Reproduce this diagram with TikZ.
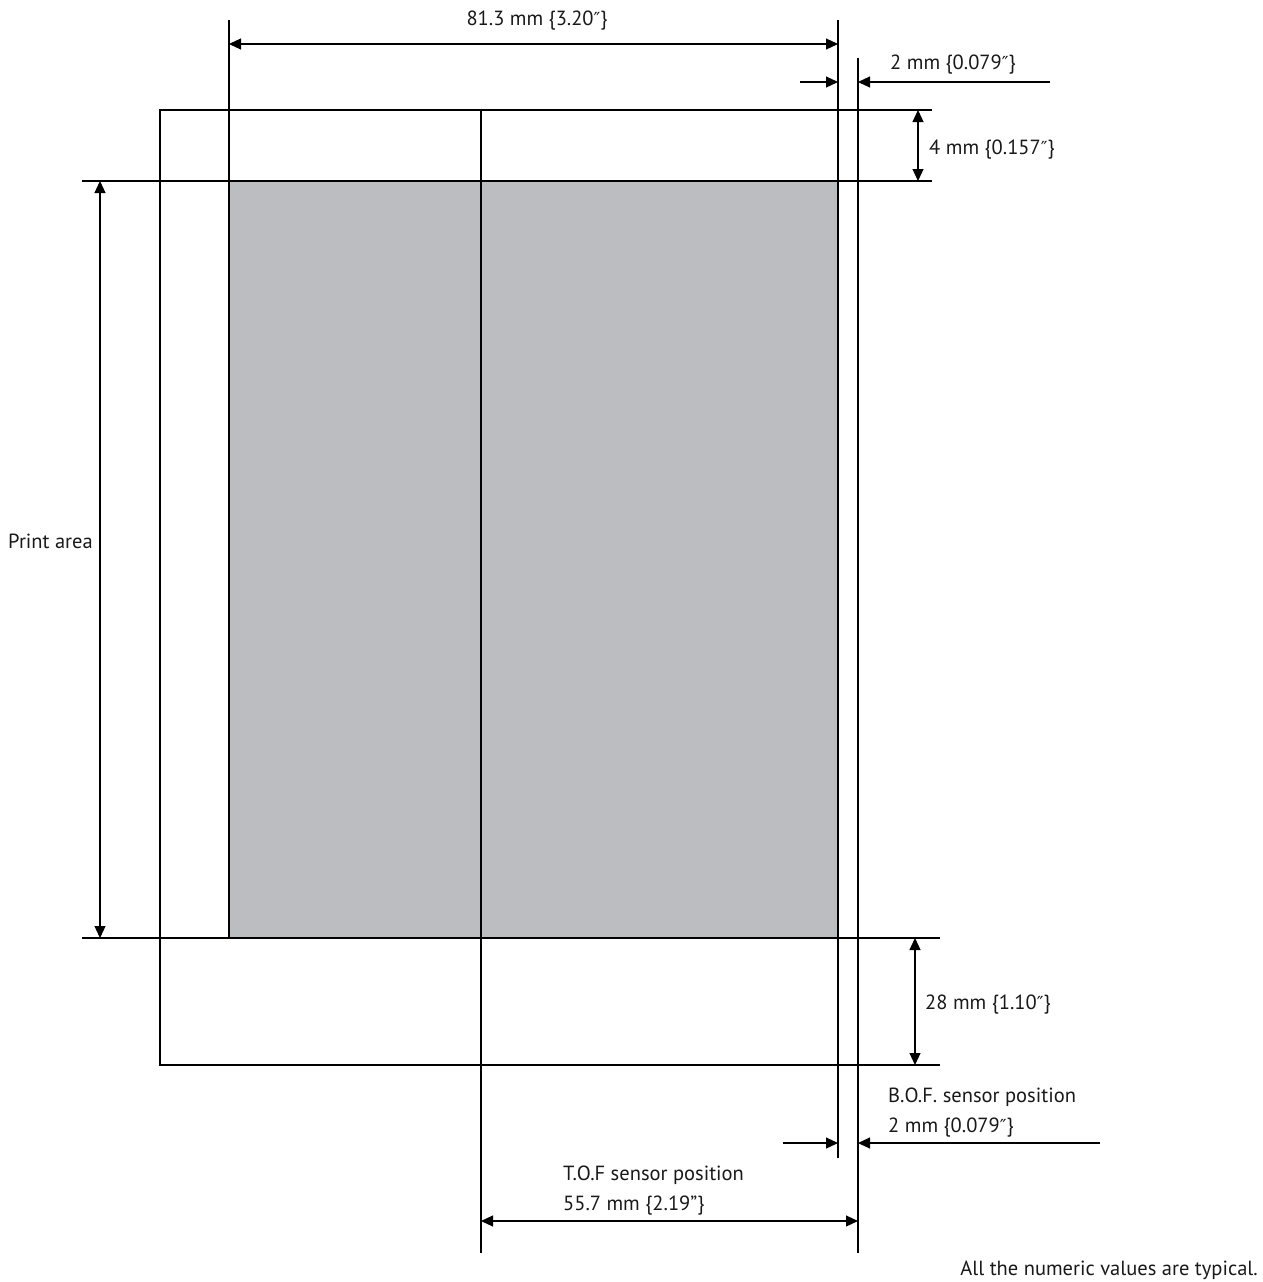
\documentclass[tikz,border=0pt]{standalone}
\usepackage{fontspec}
\setmainfont{PT Sans}
\newfontfamily\symfont{DejaVu Sans}
\newcommand{\dprime}{{\symfont\fontsize{18}{22}\selectfont ″}}
\usetikzlibrary{arrows.meta}
\definecolor{printgrey}{HTML}{BCBDC0}
\tikzset{
  thinline/.style={line width=1.1pt, black},
  frameline/.style={line width=2pt, black},
  dimarrow/.style={line width=1.1pt, black, -{Triangle[length=12pt,width=11pt]}},
  dimboth/.style={line width=1.1pt, black, {Triangle[length=12pt,width=11pt]}-{Triangle[length=12pt,width=11pt]}},
  lbl/.style={font=\fontsize{20.5}{24}\selectfont, inner sep=0pt, text=black!90}
}
\begin{document}
\begin{tikzpicture}[x=1pt,y=-1pt]
\useasboundingbox (0,0) rectangle (1262,1282);
% coordinates
\coordinate (pTL) at (160,110);
\coordinate (pBR) at (858,1065);
\coordinate (aTL) at (229,181);
\coordinate (aBR) at (838,938);
% print area
\fill[printgrey] (aTL) rectangle (aBR);
% extension lines
\draw[thinline] (229,20) coordinate (e1t) -- (229,181);
\draw[thinline] (838,20) coordinate (e2t) -- (838,1158) coordinate (e2b);
\draw[thinline] (858,58) coordinate (e3t) -- (858,1253) coordinate (e3b);
\draw[thinline] (481,110) coordinate (e4t) -- (481,1253) coordinate (e4b);
\draw[thinline] (82,181) coordinate (h1l) -- (932,181) coordinate (h1r);
\draw[thinline] (82,938) coordinate (h2l) -- (940,938) coordinate (h2r);
\draw[thinline] (858,110) -- (932,110) coordinate (h3r);
\draw[thinline] (858,1065) -- (940,1065) coordinate (h4r);
% frames
\draw[frameline] (pTL) rectangle (pBR);
\draw[line width=2.4pt] (aTL) rectangle (aBR);
% 81.3 mm
\coordinate (d1a) at (229,44);
\coordinate (d1b) at (838,44);
\draw[dimboth] (d1a) -- (d1b);
\node[lbl, anchor=base] (t1) at (537,25) {81.3 mm \{3.20\dprime\}};
% 2 mm top
\coordinate (d2a) at (800,82);
\coordinate (d2b) at (838,82);
\coordinate (d2c) at (1050,82);
\coordinate (d2d) at (858,82);
\draw[dimarrow] (d2a) -- (d2b);
\draw[dimarrow] (d2c) -- (d2d);
\node[lbl, anchor=base west] (t2) at (890,69) {2 mm \{0.079\dprime\}};
% 4 mm
\coordinate (d3a) at (918,110);
\coordinate (d3b) at (918,181);
\draw[dimboth] (d3a) -- (d3b);
\node[lbl, anchor=base west] (t3) at (929,154) {4 mm \{0.157\dprime\}};
% print area
\coordinate (d4a) at (100,181);
\coordinate (d4b) at (100,938);
\draw[dimboth] (d4a) -- (d4b);
\node[lbl, anchor=base east] (t4) at (93,548) {Print area};
% 28 mm
\coordinate (d5a) at (915,938);
\coordinate (d5b) at (915,1065);
\draw[dimboth] (d5a) -- (d5b);
\node[lbl, anchor=base west] (t5) at (925,1009) {28 mm \{1.10\dprime\}};
% B.O.F.
\node[lbl, anchor=base west] (t6) at (888,1102) {B.O.F. sensor position};
\node[lbl, anchor=base west] (t7) at (888,1132) {2 mm \{0.079\dprime\}};
\coordinate (d6a) at (783,1143);
\coordinate (d6b) at (838,1143);
\coordinate (d6c) at (1100,1143);
\coordinate (d6d) at (858,1143);
\draw[dimarrow] (d6a) -- (d6b);
\draw[dimarrow] (d6c) -- (d6d);
% T.O.F.
\node[lbl, anchor=base west] (t8) at (563,1180) {T.O.F sensor position};
\node[lbl, anchor=base west] (t9) at (563,1210) {55.7 mm \{2.19"\}};
\coordinate (d7a) at (481,1221);
\coordinate (d7b) at (858,1221);
\draw[dimboth] (d7a) -- (d7b);
% note
\node[lbl, anchor=base east] (t10) at (1258,1275) {All the numeric values are typical.};
\end{tikzpicture}
\end{document}
